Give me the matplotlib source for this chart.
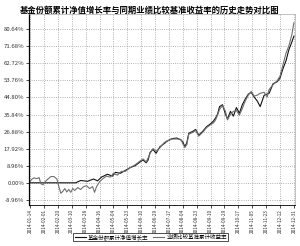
import numpy as np
import matplotlib
matplotlib.use('Agg')
import matplotlib.pyplot as plt

plt.rcParams['font.family'] = ['Noto Sans CJK SC', 'DejaVu Sans']

# x positions (days from start), values in %
fund_x = [0, 46, 48, 51, 58, 64, 68, 72, 78, 83, 86, 91, 96, 101, 106, 111, 114, 117,
          119, 121, 124, 127, 131, 135, 138, 143, 148, 152, 154, 156, 158, 160, 164,
          167, 170, 174, 178, 182, 185, 187, 189, 191, 194, 197, 199, 202, 205, 208,
          211, 214, 217, 220, 223, 226, 229, 232, 236, 241, 245, 249, 252, 255, 258,
          261, 264, 266]
fund_y = [0, 0, 0.5, 1.2, 0.8, 2.0, 1.0, 3.0, 4.5, 3.5, 5.5, 5.0, 6.5, 8.0, 9.0, 11.0,
          12.0, 10.5, 12.0, 16.0, 17.5, 15.5, 19.0, 20.5, 21.8, 23.2, 23.5, 22.5, 21.5,
          19.0, 21.0, 26.0, 27.0, 28.0, 25.0, 27.0, 29.5, 31.0, 32.5, 34.0, 36.0, 40.0,
          41.0, 36.0, 33.5, 37.5, 35.0, 39.5, 36.5, 41.0, 44.0, 46.5, 47.5, 45.0, 43.0,
          40.0, 46.0, 47.0, 52.0, 53.0, 55.0, 60.0, 64.0, 70.0, 74.0, 77.0]

bench_x = [0, 2, 4, 7, 9, 11, 13, 15, 18, 21, 24, 27, 29, 31, 33, 35, 37, 39, 41, 43,
           45, 48, 51, 54, 57, 60, 63, 65, 67, 70, 73, 77, 81, 84, 88, 92, 96, 101, 106,
           111, 114, 117, 119, 121, 124, 127, 131, 135, 138, 143, 148, 152, 154, 156,
           158, 160, 164, 167, 170, 174, 178, 182, 185, 187, 189, 191, 194, 197, 199,
           202, 205, 208, 211, 214, 217, 220, 223, 226, 229, 232, 236, 239, 241, 245,
           249, 252, 255, 258, 261, 264, 266]
bench_y = [0.7, 2.0, 2.6, 2.2, 2.8, -0.5, -1.0, 0.5, 2.0, 3.3, 3.3, 2.0, -2.0, -5.5,
           -4.5, -3.0, -4.8, -3.5, -5.0, -3.0, -4.0, -2.5, -3.5, -2.0, -1.5, -3.0, -2.0,
           -5.0, -2.0, 0.5, 2.0, 3.5, 3.0, 5.0, 4.0, 6.0, 6.0, 8.0, 9.5, 11.5, 12.5, 11.0,
           13.0, 15.5, 18.0, 16.5, 18.5, 21.0, 22.0, 23.0, 23.0, 22.8, 20.5, 18.5, 20.0,
           25.5, 26.5, 27.5, 24.5, 26.5, 29.0, 30.5, 31.5, 33.0, 35.5, 38.5, 40.5, 37.5,
           33.0, 36.0, 37.5, 38.0, 35.5, 39.0, 43.0, 46.0, 48.0, 45.5, 46.0, 47.0, 47.5,
           45.0, 49.0, 51.5, 53.5, 56.0, 62.0, 68.0, 72.0, 78.0, 84.0]

date_labels = ['2014-01-14', '2014-02-01', '2014-02-20', '2014-03-10', '2014-03-28',
               '2014-04-16', '2014-05-04', '2014-05-23', '2014-06-10', '2014-06-29',
               '2014-07-17', '2014-08-04', '2014-08-23', '2014-09-10', '2014-09-29',
               '2014-10-17', '2014-11-05', '2014-11-23', '2014-12-12', '2014-12-31']
y_ticks = [-8.96, 0.00, 8.96, 17.92, 26.88, 35.84, 44.80, 53.76, 62.72, 71.68, 80.64]

fig = plt.figure(figsize=(3.0, 2.46), dpi=100)
fig.text(0.5, 0.958, '基金份额累计净值增长率与同期业绩比较基准收益率的历史走势对比图',
         ha='center', va='center', fontsize=6, fontweight='bold')

ax = fig.add_axes([0.097, 0.167, 0.886, 0.776])
l1, = ax.plot(fund_x, fund_y, color='#111111', lw=0.8)
l2, = ax.plot(bench_x, bench_y, color='#707070', lw=0.8)

ax.set_xlim(-1, 267)
ax.set_ylim(-11.6, 88.6)
ax.set_yticks(y_ticks)
ax.set_yticklabels(['%.2f%%' % v for v in y_ticks], fontsize=4.3, color='#333333')
ax.set_xticks(np.linspace(0, 266, len(date_labels)))
ax.set_xticklabels(date_labels, rotation=90, fontsize=3.4, color='#333333')
ax.tick_params(length=2, width=0.5, pad=1.5)
ax.tick_params(axis='x', pad=0.8)
ax.grid(True, color='#999999', ls=':', lw=0.6)
for s in ['top', 'right']:
    ax.spines[s].set_color('#aaaaaa')
    ax.spines[s].set_linewidth(0.5)
ax.spines['left'].set_linewidth(0.9)
ax.spines['bottom'].set_linewidth(0.6)

leg = fig.legend([l1, l2], ['基金份额累计净值增长率', '业绩比较基准累计收益率'],
                 loc='center', bbox_to_anchor=(0.503, 0.037), ncol=2, fontsize=4.0,
                 frameon=True, fancybox=False, edgecolor='black', handlelength=2.0,
                 handletextpad=0.4, columnspacing=0.8, borderpad=0.25)
leg.get_frame().set_linewidth(0.6)

fig.savefig('out.png', dpi=100)
